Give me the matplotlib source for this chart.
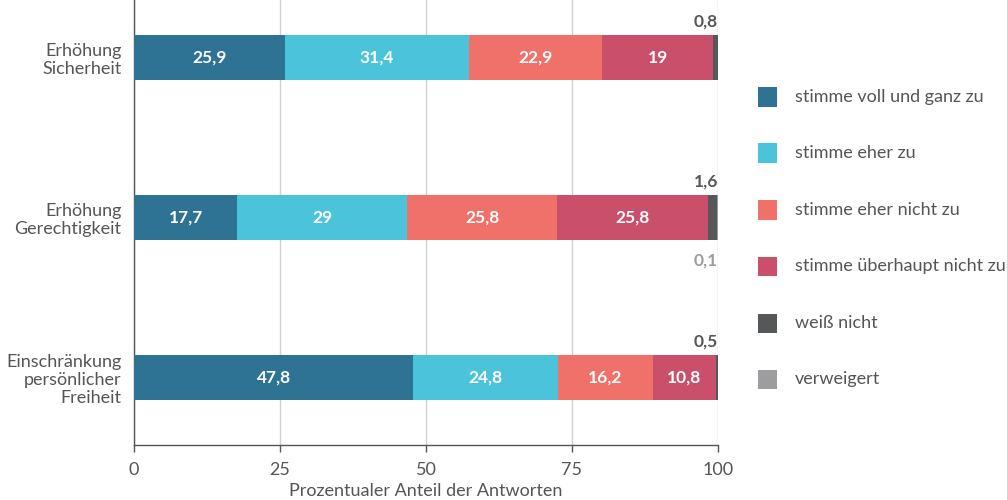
import matplotlib
matplotlib.use("Agg")
import matplotlib.pyplot as plt
from matplotlib.patches import Rectangle

plt.rcParams['font.family'] = ['Lato', 'DejaVu Sans']

categories = ["Erhöhung\nSicherheit", "Erhöhung\nGerechtigkeit", "Einschränkung\npersönlicher\nFreiheit"]
series_names = ["stimme voll und ganz zu", "stimme eher zu", "stimme eher nicht zu",
                "stimme überhaupt nicht zu", "weiß nicht", "verweigert"]
values = [
    [25.9, 17.7, 47.8],
    [31.4, 29.0, 24.8],
    [22.9, 25.8, 16.2],
    [19.0, 25.8, 10.8],
    [0.8, 1.6, 0.5],
    [0.0, 0.1, 0.0],
]
colors = ["#2e7294", "#4bc4db", "#f0706a", "#c94f6a", "#555759", "#9d9d9f"]
xticks = [0, 25, 50, 75, 100]
xlabel = "Prozentualer Anteil der Antworten"

def fmt(v):
    s = f"{v:.1f}".replace(".", ",")
    if s.endswith(",0"):
        s = s[:-2]
    return s

fig = plt.figure(figsize=(10.07, 5.0), dpi=100)
ax = fig.add_axes([134/1007, 55/500, (718-134)/1007, 445/500])

ypos = list(range(len(categories)))
bar_h = 0.28
left = [0.0] * len(categories)
for si, (name, vals) in enumerate(zip(series_names, values)):
    ax.barh(ypos, vals, left=left, height=bar_h, color=colors[si], zorder=3, linewidth=0)
    for i, v in enumerate(vals):
        if v >= 5:
            ax.text(left[i] + v / 2, ypos[i], fmt(v), ha="center", va="center",
                    color="white", fontsize=12.5, fontweight="bold", zorder=4)
        elif v > 0:
            if si == 4:
                ax.text(100, ypos[i] - bar_h / 2 - 0.035, fmt(v), ha="right", va="bottom",
                        color="#555759", fontsize=12.5, fontweight="bold", zorder=4)
            else:
                ax.text(100, ypos[i] + bar_h / 2 + 0.08, fmt(v), ha="right", va="top",
                        color="#9d9d9f", fontsize=12.5, fontweight="bold", zorder=4)
    left = [l + v for l, v in zip(left, vals)]

ax.set_xlim(0, 100)
ax.set_ylim(2.42, -0.36)
ax.set_xticks(xticks)
ax.set_xticklabels([str(t) for t in xticks])
ax.set_yticks(ypos)
ax.set_yticklabels(categories, ha="right", linespacing=1.15)
ax.tick_params(axis="y", length=0, pad=9, labelsize=13, labelcolor="#555555")
ax.tick_params(axis="x", length=5, width=1, color="#555555", pad=7, labelsize=13, labelcolor="#555555")
ax.grid(axis="x", color="#d0d0d0", linewidth=1, zorder=0)
for s in ["top", "right"]:
    ax.spines[s].set_visible(False)
for s in ["left", "bottom"]:
    ax.spines[s].set_color("#555555")
    ax.spines[s].set_linewidth(1)
ax.set_xlabel(xlabel, fontsize=13, color="#555555", labelpad=4)

# legend
ys = [97, 153, 210, 266, 323, 379]
for name, c, yp in zip(series_names, colors, ys):
    fig.add_artist(Rectangle((758/1007, (500 - yp - 9.5)/500), 19/1007, 19/500,
                             transform=fig.transFigure, color=c, linewidth=0))
    fig.text(795/1007, (500 - yp)/500, name, ha="left", va="center",
             fontsize=13, color="#555555")

fig.savefig("out.png", dpi=100)
